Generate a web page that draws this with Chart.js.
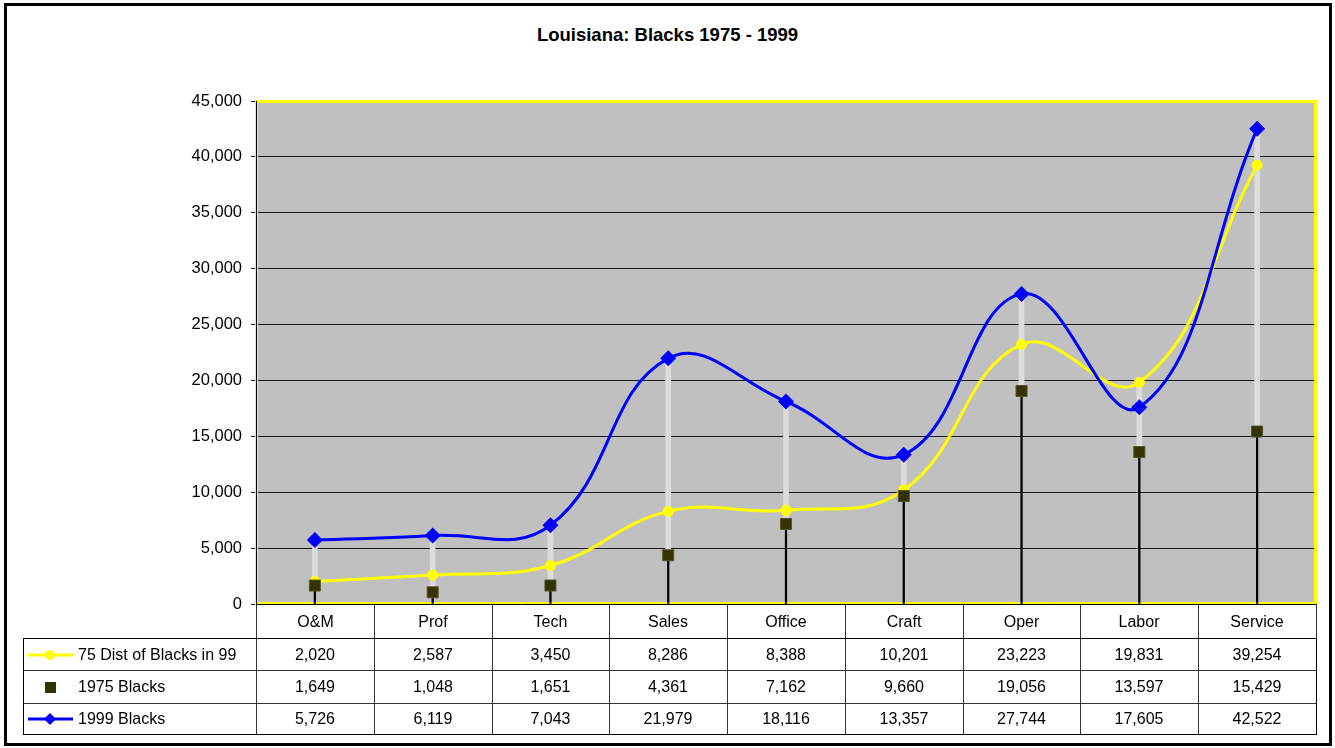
<!DOCTYPE html>
<html>
<head>
<meta charset="utf-8">
<script src="https://cdn.jsdelivr.net/npm/chart.js@4/dist/chart.umd.min.js"></script>
<style>
  body { margin: 0; background: #fff; font-family: Arial, "Liberation Sans", sans-serif; }
  #marco { position: absolute; left: 4px; top: 3px; width: 1322px; height: 737px; border: 3px solid #000; }
  #titulo { position: absolute; left: 0; top: 24px; width: 1335px; text-align: center; font-weight: bold; font-size: 18.5px; color: #000; }
  #grafica { position: absolute; left: 0; top: 0; }
  .celda { position: absolute; box-sizing: border-box; display: flex; align-items: center; justify-content: center;
           font-size: 16px; color: #000; border-right: 1px solid #333; border-bottom: 1px solid #333; }
  .leyenda { justify-content: flex-start; padding-left: 3px; }
  .leyenda svg { margin-right: 1px; }
</style>
</head>
<body>
<div id="marco"></div>
<div id="titulo">Louisiana: Blacks 1975 - 1999</div>
<canvas id="grafica" width="1335" height="748"></canvas>
<div id="tabla"></div>
<script>
// Datos
var categorias = ['O&M', 'Prof', 'Tech', 'Sales', 'Office', 'Craft', 'Oper', 'Labor', 'Service'];
var dist75 = [2020, 2587, 3450, 8286, 8388, 10201, 23223, 19831, 39254];
var negros1975 = [1649, 1048, 1651, 4361, 7162, 9660, 19056, 13597, 15429];
var negros1999 = [5726, 6119, 7043, 21979, 18116, 13357, 27744, 17605, 42522];
var marcasY = [0, 5000, 10000, 15000, 20000, 25000, 30000, 35000, 40000, 45000];
var nombres = ['75 Dist of Blacks in 99', '1975 Blacks', '1999 Blacks'];

function formato(v) { return v.toLocaleString('en-US'); }

// lineas verticales: negra de 0 al minimo, gris del minimo al maximo
var bajos = [], altos = [];
for (var i = 0; i < categorias.length; i++) {
    var mn = Math.min(dist75[i], negros1975[i], negros1999[i]);
    var mx = Math.max(dist75[i], negros1975[i], negros1999[i]);
    bajos.push([0, mn]);
    altos.push([mn, mx]);
}

var fondoArea = {
    id: 'fondoArea',
    beforeDraw: function(chart) {
        var a = chart.chartArea, ctx = chart.ctx;
        ctx.save();
        ctx.fillStyle = '#C0C0C0';
        ctx.fillRect(a.left, a.top, a.right - a.left, a.bottom - a.top);
        ctx.restore();
    },
    beforeDatasetsDraw: function(chart) {
        var a = chart.chartArea, ctx = chart.ctx;
        ctx.save();
        ctx.strokeStyle = '#FFFF00';
        ctx.lineWidth = 3;
        ctx.strokeRect(a.left + 0.5, a.top + 0.5, a.right - a.left - 1, a.bottom - a.top - 1);
        ctx.strokeStyle = '#000';
        ctx.lineWidth = 1;
        ctx.beginPath();
        ctx.moveTo(a.left + 0.5, a.top);
        ctx.lineTo(a.left + 0.5, a.bottom + 0.5);
        ctx.lineTo(a.right, a.bottom + 0.5);
        ctx.stroke();
        ctx.restore();
    }
};

var ctx = document.getElementById('grafica').getContext('2d');
var grafica = new Chart(ctx, {
    data: {
        labels: categorias,
        datasets: [
            { type: 'line', label: nombres[2], data: negros1999, order: 1,
              borderColor: '#0000FF', backgroundColor: '#0000FF', borderWidth: 3, tension: 0.42,
              pointStyle: 'rectRot', pointRadius: 8, pointBorderWidth: 0 },
            { type: 'line', label: nombres[1], data: negros1975, order: 2, showLine: false,
              backgroundColor: '#333300', borderColor: '#555533',
              pointStyle: 'rect', pointRadius: 7.8, pointBorderWidth: 1 },
            { type: 'line', label: nombres[0], data: dist75, order: 3,
              borderColor: '#FFFF00', backgroundColor: '#FFFF00', borderWidth: 3, tension: 0.42,
              pointStyle: 'circle', pointRadius: 5.5, pointBorderWidth: 0 },
            { type: 'bar', data: altos, order: 4, grouped: false, barThickness: 5,
              backgroundColor: '#DCDCDC', borderWidth: 0 },
            { type: 'bar', data: bajos, order: 5, grouped: false, barThickness: 1.6,
              backgroundColor: '#000', borderWidth: 0 }
        ]
    },
    options: {
        responsive: false,
        animation: false,
        layout: { padding: { top: 101, right: 19, bottom: 144, left: 0 } },
        plugins: { legend: { display: false }, title: { display: false }, tooltip: { enabled: false } },
        scales: {
            x: { type: 'category', offset: true, display: false },
            y: {
                min: 0, max: 45000,
                afterBuildTicks: function(s) { s.ticks = marcasY.map(function(v) { return { value: v }; }); },
                afterFit: function(s) { s.width = 256; },
                ticks: { color: '#000', padding: 9, font: { family: 'Arial, "Liberation Sans"', size: 16.5 },
                         callback: function(v) { return formato(v); } },
                grid: { color: '#1a1a1a', lineWidth: 1, tickLength: 5 },
                border: { display: false }
            }
        }
    },
    plugins: [fondoArea]
});

// Tabla de datos debajo del grafico
function claveSvg(fila) {
    var s = '<svg width="50" height="16" viewBox="0 0 50 16">';
    if (fila === 0) {
        s += '<line x1="1" y1="8" x2="46" y2="8" stroke="#FFFF00" stroke-width="3"/>';
        s += '<circle cx="23" cy="8" r="5" fill="#FFFF00"/>';
    } else if (fila === 1) {
        s += '<rect x="18" y="3" width="11" height="11" fill="#333300"/>';
    } else {
        s += '<line x1="1" y1="8" x2="46" y2="8" stroke="#0000FF" stroke-width="3"/>';
        s += '<polygon points="23,2 29,8 23,14 17,8" fill="#0000FF"/>';
    }
    return s + '</svg>';
}

function construirTabla(chart) {
    var a = chart.chartArea;
    var tabla = document.getElementById('tabla');
    var anchoCol = (a.right - a.left) / categorias.length;
    var filasY = [a.bottom, a.bottom + 34, a.bottom + 67, a.bottom + 100, a.bottom + 131];
    var izq = 23;
    var series = [dist75, negros1975, negros1999];
    var html = '';
    function celda(x, y, w, h, txt, extra, clase) {
        html += '<div class="celda ' + (clase || '') + '" style="left:' + x + 'px;top:' + y + 'px;width:' + w +
                'px;height:' + h + 'px;' + (extra || '') + '">' + txt + '</div>';
    }
    // encabezado
    for (var c = 0; c < categorias.length; c++) {
        var x0 = Math.round(a.left + c * anchoCol), x1 = Math.round(a.left + (c + 1) * anchoCol) + 1;
        celda(x0, filasY[0], x1 - x0, filasY[1] - filasY[0] + 1, categorias[c].replace('&', '&amp;'),
              'border-bottom:none;' + (c === 0 ? 'border-left:1px solid #333;' : ''));
    }
    // filas de series
    for (var f = 0; f < 3; f++) {
        var y0 = filasY[f + 1], y1 = filasY[f + 2];
        var extra = f === 0 ? 'border-top:1px solid #000;' : '';
        if (f === 2) extra += 'border-bottom-color:#000;';
        celda(izq, y0, Math.round(a.left) - izq + 1, y1 - y0, claveSvg(f) + nombres[f],
              extra + 'border-left:1px solid #000;', 'leyenda');
        for (var c2 = 0; c2 < categorias.length; c2++) {
            var xa = Math.round(a.left + c2 * anchoCol), xb = Math.round(a.left + (c2 + 1) * anchoCol) + 1;
            var ex = extra + (c2 === categorias.length - 1 ? 'border-right-color:#000;' : '');
            celda(xa, y0, xb - xa, y1 - y0, formato(series[f][c2]), ex);
        }
    }
    tabla.innerHTML = html;
}
construirTabla(grafica);
</script>
</body>
</html>
